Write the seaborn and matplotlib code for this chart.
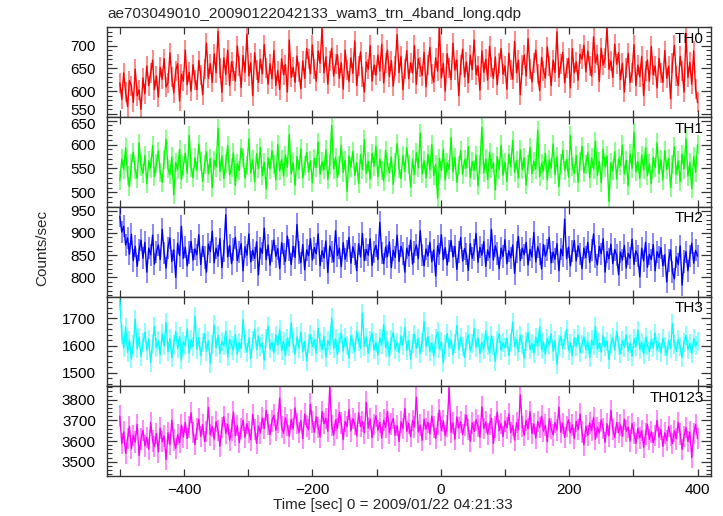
import numpy as np
import pandas as pd
import matplotlib
matplotlib.use("Agg")
import matplotlib.pyplot as plt
import matplotlib.transforms as mtransforms
from matplotlib.ticker import MultipleLocator, FixedLocator
import seaborn as sns

# ---------------- data (count rates, 3-s bins starting at t=-500 s) ----------------
t_start = -500
bin_sec = 3

th0 = [618, 582, 640, 597, 566, 623, 611, 575, 648, 590, 603, 560, 629, 594, 655, 612, 640, 668, 603, 633,
       587, 652, 626, 671, 609, 618, 684, 631, 596, 645, 660, 578, 637, 622, 690, 614, 641, 600, 658, 625,
       603, 667, 635, 592, 649, 705, 628, 660, 619, 682, 640, 731, 651, 597, 673, 636, 690, 612, 664, 644,
       622, 699, 655, 608, 678, 641, 725, 633, 662, 590, 684, 647, 619, 670, 638, 702, 651, 615, 660, 627,
       689, 612, 645, 603, 671, 636, 658, 598, 712, 630, 652, 619, 677, 641, 605, 666, 628, 693, 670, 638,
       701, 649, 622, 688, 661, 737, 640, 675, 615, 667, 694, 633, 659, 680, 628, 662, 604, 690, 647, 621,
       673, 639, 710, 612, 655, 686, 631, 598, 664, 648, 700, 622, 657, 635, 679, 644, 703, 618, 661, 690,
       632, 667, 611, 655, 724, 640, 676, 603, 648, 689, 627, 662, 640, 700, 615, 671, 652, 634, 685, 609,
       658, 696, 637, 620, 673, 644, 738, 629, 661, 600, 682, 651, 625, 705, 646, 668, 590, 657, 692, 631,
       664, 618, 679, 647, 712, 636, 655, 602, 688, 641, 670, 624, 699, 653, 628, 675, 614, 661, 693, 637,
       655, 604, 683, 646, 626, 709, 640, 668, 592, 657, 679, 633, 715, 649, 620, 662, 690, 638, 601, 674,
       645, 628, 697, 656, 612, 668, 641, 730, 630, 659, 685, 618, 650, 672, 607, 693, 640, 664, 624, 681,
       670, 701, 642, 688, 655, 633, 719, 662, 680, 621, 694, 657, 672, 740, 648, 666, 630, 703, 659, 684,
       625, 661, 598, 650, 683, 619, 640, 702, 612, 657, 631, 676, 590, 645, 668, 622, 698, 636, 655, 607,
       672, 640, 619, 689, 628, 655, 583, 661, 700, 634, 612, 676, 645, 598, 727, 630, 663, 615, 688, 604,
       575]

th1 = [525, 570, 548, 593, 536, 512, 561, 584, 547, 529, 603, 555, 540, 577, 518, 566, 551, 598, 533, 560,
       586, 542, 521, 569, 611, 550, 537, 574, 495, 563, 548, 590, 527, 556, 582, 540, 619, 553, 531, 572,
       546, 601, 564, 523, 558, 585, 539, 571, 510, 567, 553, 634, 544, 576, 529, 561, 598, 537, 552, 583,
       515, 560, 546, 592, 573, 530, 556, 612, 541, 568, 522, 581, 550, 594, 535, 563, 507, 572, 549, 587,
       558, 526, 600, 545, 569, 534, 578, 553, 621, 539, 562, 515, 575, 548, 591, 530, 557, 584, 543, 566,
       520, 571, 552, 605, 538, 564, 547, 589, 527, 559, 640, 549, 573, 531, 556, 598, 542, 567, 502, 576,
       553, 586, 536, 562, 519, 579, 548, 610, 540, 565, 528, 582, 555, 597, 533, 570, 546, 524, 588, 557,
       541, 574, 517, 563, 602, 550, 529, 577, 544, 593, 558, 511, 569, 537, 583, 552, 624, 539, 566, 530,
       579, 547, 600, 535, 558, 488, 571, 545, 590, 526, 562, 548, 615, 543, 573, 521, 556, 587, 538, 568,
       552, 596, 531, 564, 546, 578, 514, 559, 636, 541, 570, 527, 584, 550, 562, 505, 575, 548, 599, 536,
       563, 523, 580, 554, 609, 542, 567, 530, 589, 547, 572, 516, 558, 594, 539, 565, 549, 630, 533, 561,
       545, 582, 526, 568, 551, 601, 537, 574, 512, 560, 588, 546, 569, 532, 619, 555, 540, 577, 521, 564,
       596, 541, 558, 583, 530, 572, 549, 607, 536, 565, 520, 590, 553, 576, 481, 562, 545, 585, 528, 570,
       556, 599, 538, 567, 514, 581, 550, 626, 543, 564, 529, 578, 547, 593, 535, 560, 518, 573, 552, 604,
       539, 568, 526, 587, 548, 571, 510, 559, 595, 537, 566, 522, 580, 549, 612, 534, 563, 508, 575, 542,
       600]

th2 = [938, 902, 915, 873, 889, 852, 897, 838, 870, 825, 861, 884, 843, 879, 812, 866, 851, 895, 830, 858,
       873, 840, 908, 855, 821, 867, 889, 836, 862, 800, 877, 849, 915, 843, 868, 826, 856, 881, 839, 864,
       851, 896, 829, 870, 845, 812, 875, 858, 904, 833, 866, 848, 887, 822, 860, 941, 846, 872, 831, 863,
       890, 838, 857, 876, 815, 869, 850, 898, 835, 861, 843, 880, 806, 866, 854, 911, 840, 873, 828, 859,
       884, 847, 865, 820, 878, 852, 836, 893, 861, 829, 870, 845, 919, 856, 833, 874, 817, 862, 849, 887,
       839, 867, 853, 898, 826, 860, 844, 882, 811, 871, 857, 835, 905, 849, 866, 824, 878, 841, 860, 890,
       832, 869, 852, 815, 876, 846, 899, 838, 863, 850, 887, 827, 858, 872, 840, 924, 855, 831, 868, 847,
       880, 822, 861, 845, 895, 836, 870, 854, 812, 866, 849, 884, 830, 858, 873, 842, 905, 851, 826, 864,
       848, 879, 835, 862, 803, 871, 853, 896, 840, 867, 828, 859, 883, 846, 870, 818, 857, 890, 837, 865,
       852, 816, 876, 843, 861, 899, 834, 868, 850, 881, 825, 862, 845, 908, 839, 871, 854, 820, 866, 847,
       885, 831, 860, 844, 873, 809, 857, 892, 838, 866, 851, 879, 828, 863, 846, 901, 835, 869, 853, 819,
       874, 848, 862, 890, 833, 857, 841, 876, 815, 864, 849, 931, 842, 868, 826, 859, 883, 837, 871, 852,
       820, 866, 845, 879, 834, 861, 898, 847, 828, 870, 853, 887, 812, 858, 842, 875, 831, 863, 850, 806,
       857, 839, 872, 821, 854, 843, 886, 829, 860, 848, 801, 866, 837, 879, 823, 852, 840, 874, 815, 858,
       845, 867, 826, 851, 790, 838, 862, 812, 797, 846, 829, 871, 783, 836, 858, 815, 849, 877, 832, 861,
       848]

th3 = [1765, 1640, 1592, 1668, 1575, 1620, 1551, 1603, 1697, 1588, 1631, 1560, 1612, 1649, 1583, 1624, 1538, 1609, 1671, 1594,
       1617, 1566, 1643, 1599, 1685, 1578, 1626, 1555, 1604, 1652, 1589, 1633, 1547, 1614, 1600, 1662, 1572, 1621, 1596, 1709,
       1586, 1629, 1563, 1610, 1645, 1580, 1618, 1534, 1605, 1676, 1592, 1637, 1571, 1615, 1599, 1654, 1558, 1623, 1601, 1583,
       1641, 1569, 1612, 1590, 1695, 1607, 1576, 1628, 1552, 1619, 1660, 1585, 1635, 1595, 1608, 1546, 1626, 1672, 1588, 1613,
       1574, 1639, 1602, 1658, 1581, 1616, 1562, 1627, 1597, 1683, 1609, 1568, 1632, 1591, 1650, 1577, 1615, 1543, 1606, 1640,
       1596, 1622, 1573, 1664, 1611, 1585, 1634, 1557, 1618, 1601, 1702, 1589, 1625, 1567, 1613, 1646, 1580, 1629, 1599, 1554,
       1637, 1605, 1578, 1653, 1614, 1590, 1720, 1598, 1631, 1571, 1620, 1647, 1584, 1610, 1565, 1628, 1603, 1678, 1593, 1617,
       1559, 1624, 1648, 1587, 1612, 1575, 1636, 1600, 1666, 1582, 1619, 1549, 1607, 1642, 1590, 1627, 1570, 1613, 1689, 1596,
       1633, 1578, 1609, 1561, 1625, 1651, 1588, 1614, 1536, 1603, 1644, 1592, 1621, 1567, 1608, 1674, 1585, 1630, 1597, 1556,
       1616, 1640, 1581, 1606, 1663, 1594, 1628, 1570, 1611, 1587, 1655, 1602, 1574, 1636, 1599, 1541, 1619, 1645, 1583, 1610,
       1592, 1627, 1564, 1613, 1687, 1596, 1622, 1578, 1638, 1603, 1553, 1615, 1649, 1586, 1607, 1572, 1631, 1598, 1668, 1584,
       1612, 1568, 1626, 1601, 1643, 1579, 1617, 1530, 1605, 1634, 1590, 1620, 1660, 1582, 1609, 1563, 1628, 1597, 1640, 1575,
       1603, 1632, 1585, 1614, 1556, 1621, 1599, 1670, 1588, 1610, 1576, 1637, 1595, 1616, 1548, 1606, 1629, 1583, 1652, 1600,
       1571, 1618, 1594, 1639, 1580, 1609, 1560, 1625, 1597, 1657, 1586, 1612, 1568, 1630, 1602, 1577, 1621, 1592, 1646, 1583,
       1610, 1573, 1627, 1598, 1564, 1619, 1590, 1681, 1604, 1579, 1623, 1595, 1557, 1613, 1637, 1586, 1608, 1571, 1626, 1599,
       1615]

th0123 = [3720, 3588, 3645, 3540, 3612, 3670, 3563, 3628, 3595, 3681, 3530, 3609, 3652, 3577, 3618, 3560, 3690, 3601, 3574, 3636,
          3548, 3662, 3597, 3625, 3511, 3640, 3583, 3701, 3606, 3565, 3631, 3592, 3677, 3620, 3690, 3612, 3668, 3737, 3641, 3584,
          3659, 3706, 3622, 3680, 3598, 3647, 3763, 3630, 3671, 3609, 3694, 3650, 3575, 3666, 3718, 3637, 3682, 3604, 3653, 3740,
          3627, 3675, 3592, 3660, 3701, 3618, 3684, 3644, 3606, 3729, 3657, 3589, 3672, 3639, 3712, 3660, 3748, 3679, 3631, 3697,
          3725, 3652, 3690, 3808, 3668, 3638, 3713, 3677, 3624, 3704, 3659, 3760, 3686, 3641, 3699, 3612, 3731, 3673, 3655, 3778,
          3691, 3643, 3717, 3665, 3620, 3742, 3684, 3710, 3647, 3862, 3676, 3629, 3702, 3661, 3738, 3688, 3607, 3695, 3670, 3753,
          3649, 3708, 3682, 3625, 3736, 3671, 3694, 3640, 3788, 3663, 3706, 3616, 3681, 3722, 3652, 3690, 3615, 3701, 3666, 3744,
          3639, 3682, 3710, 3628, 3675, 3597, 3693, 3660, 3758, 3647, 3686, 3621, 3699, 3669, 3812, 3644, 3677, 3603, 3705, 3658,
          3691, 3635, 3720, 3668, 3612, 3682, 3749, 3651, 3697, 3626, 3674, 3859, 3642, 3687, 3609, 3716, 3663, 3693, 3631, 3678,
          3724, 3657, 3600, 3688, 3646, 3703, 3672, 3619, 3766, 3661, 3692, 3633, 3679, 3710, 3588, 3668, 3740, 3650, 3684, 3622,
          3697, 3664, 3731, 3641, 3675, 3605, 3689, 3655, 3823, 3670, 3628, 3700, 3659, 3742, 3637, 3683, 3614, 3694, 3666, 3720,
          3648, 3677, 3596, 3707, 3661, 3630, 3690, 3654, 3764, 3642, 3686, 3618, 3671, 3703, 3639, 3678, 3612, 3695, 3655, 3730,
          3643, 3581, 3672, 3627, 3688, 3650, 3715, 3609, 3666, 3639, 3702, 3660, 3594, 3683, 3625, 3748, 3656, 3617, 3690, 3641,
          3677, 3623, 3705, 3648, 3668, 3600, 3685, 3639, 3589, 3662, 3615, 3650, 3570, 3634, 3681, 3608, 3645, 3592, 3626, 3700,
          3618, 3655, 3574, 3640, 3603, 3671, 3627, 3588, 3649, 3611, 3690, 3635, 3560, 3622, 3665, 3598, 3643, 3520, 3637, 3680,
          3612]

band_names = ["TH0", "TH1", "TH2", "TH3", "TH0123"]
band_values = [th0, th1, th2, th3, th0123]
band_errors = [22, 20, 25, 35, 52]          # typical 1-sigma error of a bin (counts/sec)
band_ylims = [(543, 740), (470, 657.5), (757, 959), (1450, 1781), (3431, 3865)]
band_major = [50, 50, 50, 100, 100]
band_colors = ["#ff0000", "#00ff00", "#0000ff", "#00ffff", "#ff00ff"]

title = "ae703049010_20090122042133_wam3_trn_4band_long.qdp"
xlabel = "Time [sec] 0 = 2009/01/22 04:21:33"
ylabel = "Counts/sec"
x_range = (-520, 421)
x_tick_labels = [-400, -200, 0, 200, 400]

# ---------------- figure ----------------
sns.set_theme(style="ticks")
plt.rcParams["font.family"] = ["Liberation Sans", "DejaVu Sans"]
FS = 11

W, H = 723, 516
fig = plt.figure(figsize=(W / 100, H / 100), dpi=100)
left, right = 107 / W, 711 / W
top, bottom = 1 - 27.3 / H, 1 - 476 / H
gs = fig.add_gridspec(5, 1, left=left, right=right, top=top, bottom=bottom, hspace=0)

axes = []
for i, (name, vals, err, ylim, maj, col) in enumerate(
        zip(band_names, band_values, band_errors, band_ylims, band_major, band_colors)):
    ax = fig.add_subplot(gs[i, 0], sharex=axes[0] if axes else None)
    axes.append(ax)
    n = len(vals)
    t = t_start + bin_sec * np.arange(n)
    v = np.asarray(vals, dtype=float)
    df = pd.DataFrame({"time": t, "rate": v})
    ax.vlines(df["time"], df["rate"] - err, df["rate"] + err, color=col, alpha=0.5, lw=1.3)
    sns.lineplot(data=df, x="time", y="rate", ax=ax, color=col, lw=1.0,
                 estimator=None, sort=False)
    ax.set_xlim(*x_range)
    ax.set_ylim(*ylim)
    ax.set_xlabel("")
    ax.set_ylabel("")
    ax.yaxis.set_major_locator(MultipleLocator(maj))
    ax.yaxis.set_minor_locator(MultipleLocator(maj / 5))
    ax.xaxis.set_major_locator(FixedLocator(x_tick_labels))
    ax.xaxis.set_minor_locator(MultipleLocator(100))
    ax.tick_params(axis="both", which="both", direction="in", top=True, right=True,
                   colors="#333333", labelcolor="black", labelsize=FS)
    ax.tick_params(axis="y", which="major", length=7, width=0.9, pad=8)
    ax.tick_params(axis="y", which="minor", length=3.5, width=0.8)
    ax.tick_params(axis="x", which="major", length=5, width=0.9, pad=5)
    ax.tick_params(axis="x", which="minor", length=5, width=0.9)
    for sp in ax.spines.values():
        sp.set_color("#333333")
        sp.set_linewidth(1.0)
    ax.text(0.988, 0.95, name, transform=ax.transAxes, ha="right", va="top",
            fontsize=FS, color="black")
    if i < 4:
        ax.tick_params(axis="x", labelbottom=False)

# nudge the two crowded labels at the TH0/TH1 boundary apart a little
fig.canvas.draw()
for lab in axes[0].get_yticklabels():
    if lab.get_text() == "550":
        lab.set_transform(lab.get_transform() + mtransforms.ScaledTranslation(0, 3 / 72, fig.dpi_scale_trans))
for lab in axes[1].get_yticklabels():
    if lab.get_text() == "650":
        lab.set_transform(lab.get_transform() + mtransforms.ScaledTranslation(0, -2 / 72, fig.dpi_scale_trans))

fig.text(left, 1 - 14 / H, title, ha="left", va="center", fontsize=FS)
fig.text(393 / W, 1 - 505 / H, xlabel, ha="center", va="center", fontsize=FS)
fig.text(42 / W, 1 - 248 / H, ylabel, ha="center", va="center", rotation=90, fontsize=FS)

fig.savefig("out.png", dpi=100, facecolor="white")
